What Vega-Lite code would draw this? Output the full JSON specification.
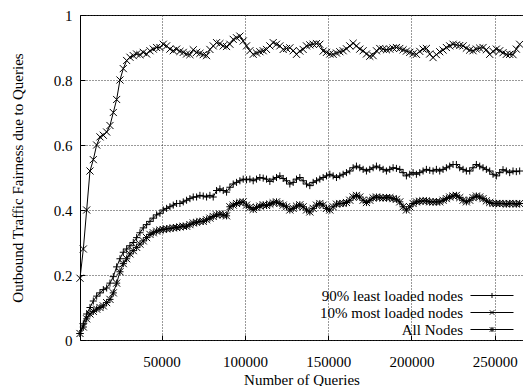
{
  "$schema": "https://vega.github.io/schema/vega-lite/v6.json",
  "autosize": {"type": "none"},
  "padding": {"left": 80, "top": 15, "right": 0, "bottom": 46},
  "width": 443,
  "height": 325,
  "background": "white",
  "config": {
    "font": "Liberation Serif",
    "view": {"stroke": "black", "strokeWidth": 1},
    "axis": {
      "labelFont": "Liberation Serif", "labelFontSize": 15, "labelColor": "black",
      "titleFont": "Liberation Serif", "titleFontSize": 15, "titleFontWeight": "normal", "titleColor": "black",
      "domain": false, "grid": true, "gridColor": "#333", "gridDash": [1, 2], "gridOpacity": 1,
      "ticks": true, "tickColor": "black", "tickSize": -5
    }
  },
  "data": {"values": [
    {"q":1000,"a":0.02,"b":0.19,"c":0.02},
    {"q":3000,"a":0.05,"b":0.28,"c":0.04},
    {"q":5000,"a":0.08,"b":0.40,"c":0.065},
    {"q":7000,"a":0.10,"b":0.52,"c":0.08},
    {"q":9000,"a":0.12,"b":0.555,"c":0.088},
    {"q":11000,"a":0.135,"b":0.60,"c":0.095},
    {"q":13000,"a":0.145,"b":0.625,"c":0.10},
    {"q":15000,"a":0.155,"b":0.63,"c":0.105},
    {"q":17000,"a":0.16,"b":0.64,"c":0.115},
    {"q":19000,"a":0.175,"b":0.66,"c":0.125},
    {"q":21000,"a":0.195,"b":0.70,"c":0.145},
    {"q":23000,"a":0.225,"b":0.74,"c":0.175},
    {"q":25000,"a":0.25,"b":0.80,"c":0.21},
    {"q":27000,"a":0.27,"b":0.835,"c":0.235},
    {"q":29000,"a":0.28,"b":0.86,"c":0.25},
    {"q":31000,"a":0.29,"b":0.87,"c":0.265},
    {"q":33000,"a":0.30,"b":0.875,"c":0.275},
    {"q":35000,"a":0.315,"b":0.88,"c":0.285},
    {"q":37000,"a":0.33,"b":0.878,"c":0.295},
    {"q":39000,"a":0.345,"b":0.885,"c":0.305},
    {"q":41000,"a":0.355,"b":0.88,"c":0.315},
    {"q":43000,"a":0.365,"b":0.89,"c":0.325},
    {"q":45000,"a":0.375,"b":0.895,"c":0.33},
    {"q":47000,"a":0.385,"b":0.90,"c":0.335},
    {"q":49000,"a":0.39,"b":0.90,"c":0.338},
    {"q":51000,"a":0.40,"b":0.91,"c":0.34},
    {"q":53000,"a":0.405,"b":0.905,"c":0.342},
    {"q":55000,"a":0.41,"b":0.895,"c":0.343},
    {"q":57000,"a":0.415,"b":0.89,"c":0.345},
    {"q":59000,"a":0.42,"b":0.895,"c":0.346},
    {"q":61000,"a":0.42,"b":0.888,"c":0.348},
    {"q":63000,"a":0.425,"b":0.885,"c":0.35},
    {"q":65000,"a":0.43,"b":0.88,"c":0.35},
    {"q":67000,"a":0.435,"b":0.878,"c":0.355},
    {"q":69000,"a":0.44,"b":0.893,"c":0.36},
    {"q":71000,"a":0.44,"b":0.885,"c":0.362},
    {"q":73000,"a":0.445,"b":0.882,"c":0.365},
    {"q":75000,"a":0.443,"b":0.878,"c":0.365},
    {"q":77000,"a":0.44,"b":0.875,"c":0.37},
    {"q":79000,"a":0.445,"b":0.894,"c":0.375},
    {"q":81000,"a":0.44,"b":0.905,"c":0.38},
    {"q":83000,"a":0.46,"b":0.915,"c":0.385},
    {"q":85000,"a":0.465,"b":0.912,"c":0.387},
    {"q":87000,"a":0.46,"b":0.905,"c":0.385},
    {"q":89000,"a":0.455,"b":0.903,"c":0.382},
    {"q":91000,"a":0.47,"b":0.91,"c":0.41},
    {"q":93000,"a":0.48,"b":0.925,"c":0.415},
    {"q":95000,"a":0.485,"b":0.93,"c":0.42},
    {"q":97000,"a":0.49,"b":0.935,"c":0.423},
    {"q":99000,"a":0.495,"b":0.92,"c":0.425},
    {"q":101000,"a":0.493,"b":0.905,"c":0.415},
    {"q":103000,"a":0.495,"b":0.89,"c":0.408},
    {"q":105000,"a":0.49,"b":0.879,"c":0.402},
    {"q":107000,"a":0.495,"b":0.883,"c":0.408},
    {"q":109000,"a":0.50,"b":0.887,"c":0.412},
    {"q":111000,"a":0.498,"b":0.89,"c":0.416},
    {"q":113000,"a":0.495,"b":0.894,"c":0.414},
    {"q":115000,"a":0.488,"b":0.905,"c":0.418},
    {"q":117000,"a":0.495,"b":0.915,"c":0.422},
    {"q":119000,"a":0.50,"b":0.91,"c":0.425},
    {"q":121000,"a":0.505,"b":0.905,"c":0.42},
    {"q":123000,"a":0.497,"b":0.894,"c":0.415},
    {"q":125000,"a":0.49,"b":0.897,"c":0.41},
    {"q":127000,"a":0.48,"b":0.899,"c":0.40},
    {"q":129000,"a":0.485,"b":0.89,"c":0.405},
    {"q":131000,"a":0.495,"b":0.879,"c":0.412},
    {"q":133000,"a":0.50,"b":0.889,"c":0.416},
    {"q":135000,"a":0.49,"b":0.894,"c":0.41},
    {"q":137000,"a":0.48,"b":0.905,"c":0.40},
    {"q":139000,"a":0.475,"b":0.908,"c":0.394},
    {"q":141000,"a":0.485,"b":0.91,"c":0.405},
    {"q":143000,"a":0.49,"b":0.912,"c":0.415},
    {"q":145000,"a":0.495,"b":0.91,"c":0.42},
    {"q":147000,"a":0.50,"b":0.889,"c":0.415},
    {"q":149000,"a":0.505,"b":0.885,"c":0.405},
    {"q":151000,"a":0.51,"b":0.88,"c":0.40},
    {"q":153000,"a":0.505,"b":0.879,"c":0.41},
    {"q":155000,"a":0.50,"b":0.883,"c":0.418},
    {"q":157000,"a":0.505,"b":0.887,"c":0.42},
    {"q":159000,"a":0.51,"b":0.89,"c":0.42},
    {"q":161000,"a":0.515,"b":0.896,"c":0.423},
    {"q":163000,"a":0.52,"b":0.905,"c":0.43},
    {"q":165000,"a":0.53,"b":0.913,"c":0.44},
    {"q":167000,"a":0.535,"b":0.905,"c":0.445},
    {"q":169000,"a":0.53,"b":0.895,"c":0.44},
    {"q":171000,"a":0.525,"b":0.89,"c":0.43},
    {"q":173000,"a":0.52,"b":0.88,"c":0.423},
    {"q":175000,"a":0.525,"b":0.873,"c":0.43},
    {"q":177000,"a":0.53,"b":0.875,"c":0.437},
    {"q":179000,"a":0.535,"b":0.89,"c":0.44},
    {"q":181000,"a":0.53,"b":0.897,"c":0.438},
    {"q":183000,"a":0.525,"b":0.895,"c":0.437},
    {"q":185000,"a":0.52,"b":0.893,"c":0.438},
    {"q":187000,"a":0.525,"b":0.895,"c":0.438},
    {"q":189000,"a":0.53,"b":0.898,"c":0.435},
    {"q":191000,"a":0.528,"b":0.90,"c":0.433},
    {"q":193000,"a":0.525,"b":0.897,"c":0.425},
    {"q":195000,"a":0.515,"b":0.893,"c":0.41},
    {"q":197000,"a":0.505,"b":0.889,"c":0.40},
    {"q":199000,"a":0.51,"b":0.885,"c":0.41},
    {"q":201000,"a":0.515,"b":0.881,"c":0.42},
    {"q":203000,"a":0.51,"b":0.879,"c":0.425},
    {"q":205000,"a":0.515,"b":0.888,"c":0.427},
    {"q":207000,"a":0.52,"b":0.895,"c":0.428},
    {"q":209000,"a":0.525,"b":0.897,"c":0.428},
    {"q":211000,"a":0.522,"b":0.88,"c":0.425},
    {"q":213000,"a":0.52,"b":0.869,"c":0.425},
    {"q":215000,"a":0.525,"b":0.878,"c":0.425},
    {"q":217000,"a":0.52,"b":0.887,"c":0.425},
    {"q":219000,"a":0.525,"b":0.892,"c":0.43},
    {"q":221000,"a":0.53,"b":0.90,"c":0.435},
    {"q":223000,"a":0.535,"b":0.905,"c":0.44},
    {"q":225000,"a":0.54,"b":0.91,"c":0.443},
    {"q":227000,"a":0.54,"b":0.908,"c":0.445},
    {"q":229000,"a":0.53,"b":0.906,"c":0.438},
    {"q":231000,"a":0.525,"b":0.905,"c":0.43},
    {"q":233000,"a":0.52,"b":0.898,"c":0.425},
    {"q":235000,"a":0.52,"b":0.892,"c":0.43},
    {"q":237000,"a":0.53,"b":0.89,"c":0.438},
    {"q":239000,"a":0.54,"b":0.895,"c":0.443},
    {"q":241000,"a":0.535,"b":0.898,"c":0.44},
    {"q":243000,"a":0.53,"b":0.90,"c":0.435},
    {"q":245000,"a":0.525,"b":0.893,"c":0.428},
    {"q":247000,"a":0.52,"b":0.879,"c":0.423},
    {"q":249000,"a":0.51,"b":0.888,"c":0.42},
    {"q":251000,"a":0.505,"b":0.895,"c":0.42},
    {"q":253000,"a":0.515,"b":0.89,"c":0.42},
    {"q":255000,"a":0.524,"b":0.884,"c":0.42},
    {"q":257000,"a":0.52,"b":0.879,"c":0.418},
    {"q":259000,"a":0.515,"b":0.879,"c":0.42},
    {"q":261000,"a":0.52,"b":0.878,"c":0.42},
    {"q":263000,"a":0.518,"b":0.895,"c":0.418},
    {"q":265000,"a":0.52,"b":0.91,"c":0.42}
  ]},
  "transform": [{"fold": ["a", "b", "c"], "as": ["s", "v"]}],
  "encoding": {
    "x": {
      "field": "q", "type": "quantitative",
      "scale": {"domain": [1000, 267000], "nice": false, "zero": false},
      "axis": {"values": [50000, 100000, 150000, 200000, 250000], "format": "d", "labelPadding": 19,
               "title": "Number of Queries", "titleBaseline": "alphabetic", "titleY": 44}
    },
    "y": {
      "field": "v", "type": "quantitative",
      "scale": {"domain": [0, 1], "nice": false},
      "axis": {"values": [0, 0.2, 0.4, 0.6, 0.8, 1], "format": "~g", "labelPadding": 13,
               "title": "Outbound Traffic Fairness due to Queries", "titleBaseline": "alphabetic", "titleX": -57.5, "titleY": 162.5, "titleAngle": -90}
    }
  },
  "layer": [
    {
      "mark": {"type": "line", "color": "black", "strokeWidth": 1},
      "encoding": {"detail": {"field": "s"}}
    },
    {
      "mark": {"type": "point", "filled": false, "color": "black", "size": 50, "strokeWidth": 1, "opacity": 1},
      "encoding": {
        "shape": {
          "field": "s", "type": "nominal",
          "scale": {"domain": ["a", "b", "c"], "range": ["M-1,0H1M0,-1V1", "M-1,-1L1,1M-1,1L1,-1", "M-1,0H1M0,-1V1M-1,-1L1,1M-1,1L1,-1"]},
          "legend": null
        }
      }
    },
    {
      "transform": [{"filter": "datum.q === 1000"}],
      "mark": {"type": "point", "filled": false, "color": "black", "size": 40, "strokeWidth": 1, "opacity": 0},
      "encoding": {
        "shape": {
          "field": "s", "type": "nominal",
          "scale": {"domain": ["a", "b", "c"], "range": [
            "M-6.8,0H6.8M0,-0.8V0.8",
            "M-6.8,0H6.8M-0.7,-0.7L0.7,0.7M-0.7,0.7L0.7,-0.7",
            "M-6.8,0H6.8M-0.8,0H0.8M0,-0.8V0.8M-0.7,-0.7L0.7,0.7M-0.7,0.7L0.7,-0.7"]},
          "legend": {
            "orient": "none", "legendX": 404.5, "legendY": 273, "padding": 0,
            "title": null, "labelAlign": "right", "labelOffset": -36.5, "labelFontSize": 15,
            "labelFont": "Liberation Serif", "labelColor": "black", "labelLimit": 0, "rowPadding": 1,
            "symbolSize": 40, "symbolStrokeWidth": 1, "symbolStrokeColor": "black", "symbolFillColor": "transparent", "symbolOpacity": 1,
            "labelExpr": "datum.value === 'a' ? '90% least loaded nodes' : datum.value === 'b' ? '10% most loaded nodes' : 'All Nodes'"
          }
        }
      }
    }
  ],
  "resolve": {"scale": {"shape": "independent"}}
}
